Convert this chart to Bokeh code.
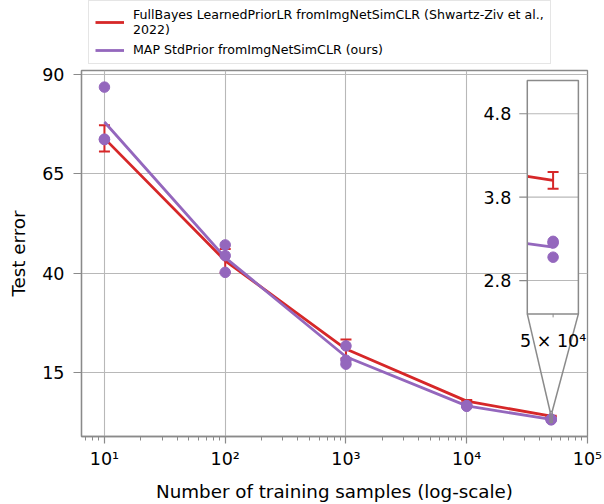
import numpy as np
from bokeh.plotting import figure
from bokeh.layouts import column
from bokeh.models import (Range1d, LogScale, LinearScale, FixedTicker, CustomJSTickFormatter,
                          ColumnDataSource, Whisker, TeeHead, Legend, LegendItem)
from bokeh.core.properties import value
from bokeh.embed import file_html
from bokeh.resources import INLINE

# ---------------- data ----------------
n_samples = [10, 100, 1000, 10000, 50000]
fullbayes_mean = [73.9, 43.1, 20.9, 7.8, 4.0]
fullbayes_err = [3.3, 3.0, 2.4, 0.3, 0.1]
map_runs = [
    [86.8, 73.6, 73.7],
    [47.1, 44.4, 40.2],
    [21.7, 18.1, 17.1],
    [6.7, 6.5, 6.6],
    [3.25, 3.08, 3.27],
]
label_fullbayes = "FullBayes LearnedPriorLR fromImgNetSimCLR (Shwartz-Ziv et al.,\n2022)"
label_map = "MAP StdPrior fromImgNetSimCLR (ours)"
x_label = "Number of training samples (log-scale)"
y_label = "Test error"
y_ticks = [15, 40, 65, 90]
x_ticks = [10, 100, 1000, 10000, 100000]
inset_y_ticks = [2.8, 3.8, 4.8]
inset_y_tick_labels = ["2.8", "3.8", "4.8"]
inset_x_ticks = [50000]
inset_x_tick_labels = ["5 \u00d7 10\u2074"]
inset_xlim = (4.9e4, 5.1e4)
inset_ylim = (2.4, 5.2)

# ---------------- styles ----------------
RED = "#d62728"
PURPLE = "#9467bd"
SPINE = "#8a8a8a"
GRID = "#b8b8b8"
FONT = "DejaVu Sans"
FS_TICK = "17.5px"
FS_LABEL = "18.3px"

main_xlim = (10 ** 0.81, 1e5)
main_ylim = (-1.1, 90.98)
# inset position as fraction of the main frame (left, right, bottom, top)
fx0, fx1, fy0, fy1 = 0.881, 0.982, 0.335, 0.973

map_mean = [float(np.mean(r)) for r in map_runs]
map_x = [x for x, r in zip(n_samples, map_runs) for _ in r]
map_y = [v for r in map_runs for v in r]

p = figure(width=604, height=439, x_axis_type="log",
           x_range=Range1d(*main_xlim), y_range=Range1d(*main_ylim),
           output_backend="svg", toolbar_location=None,
           min_border_left=81, min_border_right=17, min_border_top=5, min_border_bottom=68)
p.background_fill_color = "white"
p.border_fill_color = "white"
p.outline_line_color = SPINE
p.outline_line_width = 1.3

# inset coordinate system (extra ranges covering the whole frame)
lx0, lx1 = np.log10(inset_xlim[0]), np.log10(inset_xlim[1])
per = (lx1 - lx0) / (fx1 - fx0)
ix_range = Range1d(10 ** (lx0 - fx0 * per), 10 ** (lx1 + (1 - fx1) * per))
spy = (inset_ylim[1] - inset_ylim[0]) / (fy1 - fy0)
iy_range = Range1d(inset_ylim[0] - fy0 * spy, inset_ylim[1] + (1 - fy1) * spy)
p.extra_x_ranges = {"ix": ix_range}
p.extra_x_scales = {"ix": LogScale()}
p.extra_y_ranges = {"iy": iy_range}
p.extra_y_scales = {"iy": LinearScale()}

# axes
xa = p.xaxis[0]
ya = p.yaxis[0]
minor = [m * 10 ** k for k in range(0, 5) for m in range(2, 10)]
xa.ticker = FixedTicker(ticks=x_ticks, minor_ticks=minor)
xa.formatter = CustomJSTickFormatter(code="""
const sup = {"0":"\u2070","1":"\u00b9","2":"\u00b2","3":"\u00b3","4":"\u2074","5":"\u2075","6":"\u2076","7":"\u2077","8":"\u2078","9":"\u2079","-":"\u207b"};
const e = Math.round(Math.log10(tick));
return "10" + String(e).split("").map(c => sup[c]).join("");
""")
ya.ticker = FixedTicker(ticks=y_ticks)
for ax in (xa, ya):
    ax.axis_line_color = SPINE
    ax.axis_line_width = 1.3
    ax.major_tick_line_color = SPINE
    ax.minor_tick_line_color = SPINE
    ax.major_tick_line_width = 1.2
    ax.minor_tick_line_width = 1
    ax.major_tick_in = 0
    ax.minor_tick_in = 0
    ax.major_label_text_font = FONT
    ax.major_label_text_font_size = FS_TICK
    ax.major_label_text_color = "black"
    ax.axis_label_text_font = FONT
    ax.axis_label_text_font_size = FS_LABEL
    ax.axis_label_text_font_style = "normal"
    ax.axis_label_text_color = "black"
xa.axis_label = x_label
ya.axis_label = y_label
xa.major_tick_out = 7
xa.minor_tick_out = 4
xa.major_label_standoff = 5
xa.axis_label_standoff = 9
ya.major_tick_out = 8
ya.minor_tick_line_color = None
ya.major_label_standoff = 9
ya.axis_label_standoff = 10

p.xgrid.grid_line_color = GRID
p.ygrid.grid_line_color = GRID
p.xgrid.grid_line_width = 1.1
p.ygrid.grid_line_width = 1.1

# ---------------- main data ----------------
src_fb = ColumnDataSource(dict(x=n_samples, y=fullbayes_mean,
                               lo=[m - e for m, e in zip(fullbayes_mean, fullbayes_err)],
                               hi=[m + e for m, e in zip(fullbayes_mean, fullbayes_err)]))
r_red = p.line("x", "y", source=src_fb, line_color=RED, line_width=2.8)
p.add_layout(Whisker(source=src_fb, base="x", lower="lo", upper="hi", dimension="height",
                     line_color=RED, line_width=2,
                     upper_head=TeeHead(size=11, line_color=RED, line_width=2),
                     lower_head=TeeHead(size=11, line_color=RED, line_width=2)))
r_purple = p.line(n_samples, map_mean, line_color=PURPLE, line_width=2.8)
p.scatter(map_x, map_y, size=10.5, fill_color=PURPLE, line_color=PURPLE)

# ---------------- inset indicator + connectors (main coords) ----------------
mlx0, mlx1 = np.log10(main_xlim[0]), np.log10(main_xlim[1])
box_left_main = 10 ** (mlx0 + fx0 * (mlx1 - mlx0))
box_right_main = 10 ** (mlx0 + fx1 * (mlx1 - mlx0))
box_bottom_main = main_ylim[0] + fy0 * (main_ylim[1] - main_ylim[0])
p.quad(left=[inset_xlim[0]], right=[inset_xlim[1]], bottom=[inset_ylim[0]], top=[inset_ylim[1]],
       fill_color=None, line_color=SPINE, line_width=1.5)
p.segment(x0=[box_left_main, box_right_main], y0=[box_bottom_main, box_bottom_main],
          x1=[inset_xlim[0], inset_xlim[1]], y1=[inset_ylim[1], inset_ylim[1]],
          line_color=SPINE, line_width=1.5)

# ---------------- inset ----------------
IR = dict(x_range_name="ix", y_range_name="iy")
p.quad(left=[inset_xlim[0]], right=[inset_xlim[1]], bottom=[inset_ylim[0]], top=[inset_ylim[1]],
       fill_color="white", line_color=None, **IR)
p.segment(x0=[inset_xlim[0]] * len(inset_y_ticks), x1=[inset_xlim[1]] * len(inset_y_ticks),
          y0=inset_y_ticks, y1=inset_y_ticks, line_color=GRID, line_width=1.1, **IR)


def clip_left(xs, ys, x_lo):
    lx = np.log10(np.asarray(xs, dtype=float))
    lo = np.log10(x_lo)
    i = int(np.searchsorted(lx, lo))
    t = (lo - lx[i - 1]) / (lx[i] - lx[i - 1])
    y_lo = ys[i - 1] + t * (ys[i] - ys[i - 1])
    return [x_lo] + list(xs[i:]), [y_lo] + list(ys[i:])


rx, ry = clip_left(n_samples, fullbayes_mean, inset_xlim[0])
p.line(rx, ry, line_color=RED, line_width=2.8, **IR)
in_x = n_samples[-1]
in_lo = fullbayes_mean[-1] - fullbayes_err[-1]
in_hi = fullbayes_mean[-1] + fullbayes_err[-1]
p.segment(x0=[in_x], x1=[in_x], y0=[in_lo], y1=[in_hi], line_color=RED, line_width=2, **IR)
p.scatter([in_x, in_x], [in_lo, in_hi], marker="dash", size=11, line_color=RED, line_width=2, **IR)
px_, py_ = clip_left(n_samples, map_mean, inset_xlim[0])
p.line(px_, py_, line_color=PURPLE, line_width=2.8, **IR)
p.scatter([in_x] * len(map_runs[-1]), map_runs[-1], size=10.5,
          fill_color=PURPLE, line_color=PURPLE, **IR)
p.quad(left=[inset_xlim[0]], right=[inset_xlim[1]], bottom=[inset_ylim[0]], top=[inset_ylim[1]],
       fill_color=None, line_color=SPINE, line_width=1.5, **IR)
# inset ticks and labels
p.ray(x=[inset_xlim[0]] * len(inset_y_ticks), y=inset_y_ticks, length=8, length_units="screen",
      angle=np.pi, line_color=SPINE, line_width=1.2, **IR)
p.text(x=[inset_xlim[0]] * len(inset_y_ticks), y=inset_y_ticks, text=inset_y_tick_labels,
       x_offset=-16, text_align="right", text_baseline="middle",
       text_font=value(FONT), text_font_size=FS_TICK, text_color="black", **IR)
p.ray(x=inset_x_ticks, y=[inset_ylim[0]] * len(inset_x_ticks), length=3.5, length_units="screen",
      angle=-np.pi / 2, line_color=SPINE, line_width=1, **IR)
p.text(x=inset_x_ticks, y=[inset_ylim[0]] * len(inset_x_ticks), text=inset_x_tick_labels,
       y_offset=27, text_align="center", text_baseline="alphabetic",
       text_font=value(FONT), text_font_size=FS_TICK, text_color="black", **IR)

# ---------------- legend strip above the plot ----------------
# (frame aligned with the main plot's frame by the column layout; the
#  series lines below fall outside this strip's ranges, only their legend shows)
lf = figure(width=604, height=65, x_range=Range1d(0, 1), y_range=Range1d(0, 1),
            output_backend="svg", toolbar_location=None,
            x_axis_location=None, y_axis_location=None,
            min_border_left=0, min_border_right=0, min_border_top=0, min_border_bottom=0)
lf.grid.visible = False
lf.outline_line_color = None
lf.background_fill_color = "white"
lf.border_fill_color = "white"
l_red = lf.line(n_samples, fullbayes_mean, line_color=RED, line_width=2.8)
l_purple = lf.line(n_samples, map_mean, line_color=PURPLE, line_width=2.8)
legend = Legend(items=[LegendItem(label=label_fullbayes, renderers=[l_red]),
                       LegendItem(label=label_map, renderers=[l_purple])],
                location=(7, 1), margin=0, padding=6, spacing=5,
                glyph_width=29, glyph_height=14, label_height=14, label_standoff=9,
                label_text_font=FONT, label_text_font_size="12.6px", label_text_color="black",
                label_text_line_height=1.15,
                border_line_color="#cccccc", border_line_width=1,
                background_fill_color="white", background_fill_alpha=0.8)
lf.add_layout(legend)

layout = column(lf, p, spacing=0)
open("out.html", "w").write(file_html(layout, INLINE))
